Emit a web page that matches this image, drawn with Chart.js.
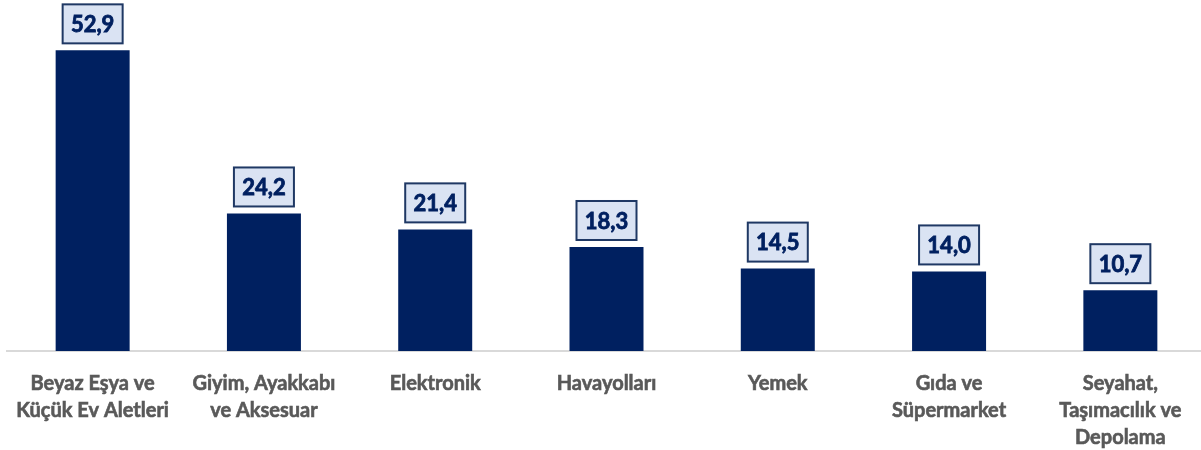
<!DOCTYPE html>
<html>
<head>
<meta charset="utf-8">
<script src="https://cdn.jsdelivr.net/npm/chart.js@4"></script>
<style>
  html, body { margin: 0; padding: 0; background: #fff; overflow: hidden; }
  #wrap { width: 1201px; height: 450px; overflow: hidden; }
</style>
</head>
<body>
<div id="wrap"><canvas id="myChart" width="1206" height="450"></canvas></div>
<script>
const categories = [
  ['Beyaz Eşya ve', 'Küçük Ev Aletleri'],
  ['Giyim, Ayakkabı', 've Aksesuar'],
  ['Elektronik'],
  ['Havayolları'],
  ['Yemek'],
  ['Gıda ve', 'Süpermarket'],
  ['Seyahat,', 'Taşımacılık ve', 'Depolama'],
];
const values = [52.9, 24.2, 21.4, 18.3, 14.5, 14.0, 10.7];

const fontFamily = 'Lato, "Open Sans", sans-serif';

const boxLabels = {
  id: 'boxLabels',
  afterDatasetsDraw(chart) {
    const { ctx } = chart;
    const meta = chart.getDatasetMeta(0);
    ctx.save();
    ctx.font = 'bold 22px ' + fontFamily;
    ctx.textAlign = 'center';
    ctx.textBaseline = 'middle';
    meta.data.forEach((bar, i) => {
      const txt = values[i].toFixed(1).replace('.', ',');
      const w = 60, h = 39;
      const x = bar.x - w / 2;
      const y = bar.y - 7 - h;
      ctx.fillStyle = '#dae3f3';
      ctx.fillRect(x, y, w, h);
      ctx.strokeStyle = '#1f3864';
      ctx.lineWidth = 2;
      ctx.strokeRect(x, y, w, h);
      ctx.fillStyle = '#002060';
      ctx.strokeStyle = '#002060';
      ctx.lineWidth = 0.8;
      ctx.fillText(txt, bar.x, y + h / 2 + 1);
      ctx.strokeText(txt, bar.x, y + h / 2 + 1);
    });
    ctx.restore();
  },
};

const config = {
  type: 'bar',
  data: {
    labels: categories,
    datasets: [{
      data: values,
      backgroundColor: '#002060',
      barPercentage: 0.432,
      categoryPercentage: 1,
    }],
  },
  options: {
    responsive: false,
    animation: false,
    layout: { padding: { left: 7, right: 0, top: 10, bottom: 0 } },
    plugins: { legend: { display: false }, tooltip: { enabled: false } },
    scales: {
      x: {
        grid: { display: false },
        border: { display: true, color: '#d9d9d9', width: 2 },
        ticks: {
          color: '#595959',
          textStrokeColor: '#595959',
          textStrokeWidth: 0.6,
          font: { family: fontFamily, size: 20, weight: 'bold', lineHeight: 1.36 },
          padding: 11,
          maxRotation: 0,
          autoSkip: false,
        },
        afterFit(scale) { scale.height = 99; },
      },
      y: {
        display: false,
        min: 0,
        max: 60,
      },
    },
  },
  plugins: [boxLabels],
};
new Chart(document.getElementById('myChart'), config);
</script>
</body>
</html>
